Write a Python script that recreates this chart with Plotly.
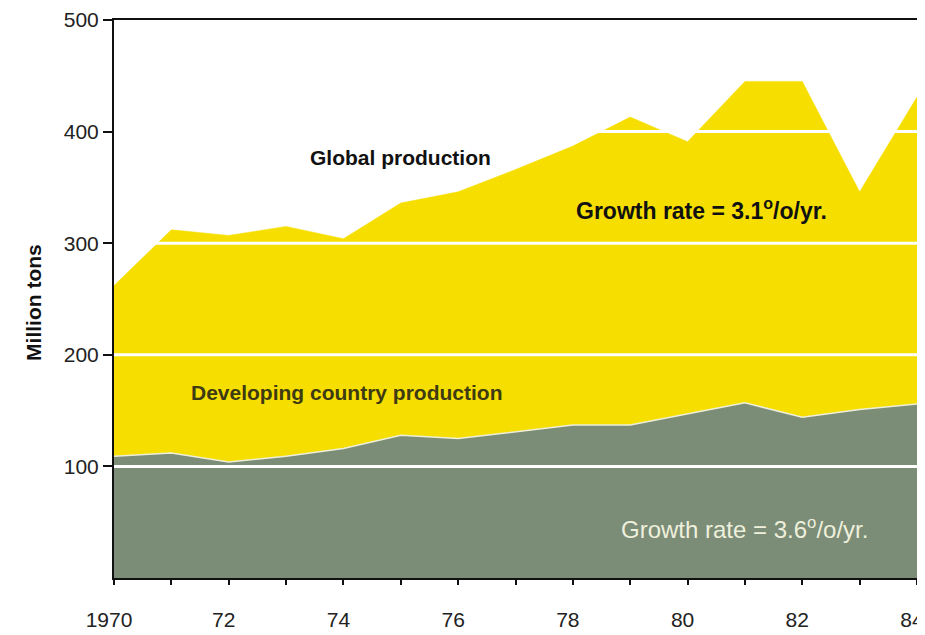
import plotly.graph_objects as go

years = list(range(1970, 1985))
global_production = [262, 312, 307, 315, 304, 336, 346, 366, 387, 413, 391, 445, 445, 346, 431]
developing_production = [109, 112, 104, 109, 116, 128, 125, 131, 137, 137, 147, 157, 144, 151, 156]
y_ticks = [100, 200, 300, 400, 500]
x_tick_vals = years
x_tick_text = ["1970" if y == 1970 else (str(y)[2:] if y % 2 == 0 else "") for y in years]

YELLOW = "#F6DF00"
GRAY = "#7B8C77"
FONT = "Liberation Sans"

fig = go.Figure()
fig.add_trace(go.Scatter(
    x=years, y=global_production, mode="lines", fill="tozeroy",
    fillcolor=YELLOW, line=dict(color=YELLOW, width=0.5), hoverinfo="skip",
    name="Global production"))
fig.add_trace(go.Scatter(
    x=years, y=developing_production, mode="lines", fill="tozeroy",
    fillcolor=GRAY, line=dict(color="#EDEFD8", width=1.5), hoverinfo="skip",
    name="Developing country production"))

# white gridlines drawn on top of the areas
for v in y_ticks[:-1]:
    fig.add_shape(type="line", xref="paper", x0=0, x1=1, yref="y", y0=v, y1=v,
                  line=dict(color="white", width=3), layer="above")

fig.add_annotation(x=1975.0, y=377, text="<b>Global production</b>", showarrow=False,
                   font=dict(family=FONT, size=21, color="#111111"))
fig.add_annotation(x=1980.25, y=331, text="<b>Growth rate = 3.1<sup>o</sup>/o/yr.</b>", showarrow=False,
                   font=dict(family=FONT, size=23, color="#111111"))
fig.add_annotation(x=1974.07, y=166, text="<b>Developing country production</b>", showarrow=False,
                   font=dict(family=FONT, size=21, color="#3E3A12"))
fig.add_annotation(x=1981.0, y=45, text="Growth rate = 3.6<sup>o</sup>/o/yr.", showarrow=False,
                   font=dict(family=FONT, size=24, color="#EEF0DC"))
fig.add_annotation(xref="paper", yref="paper", x=-0.117, y=0.494, text="<b>Million tons</b>",
                   textangle=-90, showarrow=False,
                   font=dict(family=FONT, size=21, color="#111111"))

fig.update_layout(
    width=917, height=627,
    margin=dict(l=106, r=8, t=12, b=57, autoexpand=False),
    paper_bgcolor="white", plot_bgcolor="white",
    showlegend=False,
    font=dict(family=FONT, size=21, color="#222222"),
)
fig.update_xaxes(
    range=[1970, 1984], tickmode="array", tickvals=x_tick_vals, ticktext=x_tick_text,
    ticks="outside", ticklen=5, tickwidth=2, tickcolor="#111111",
    showline=True, linecolor="#111111", linewidth=2, mirror=True,
    showgrid=False, zeroline=False, ticklabelstandoff=17, ticklabelshift=-5,
    automargin=False, ticklabeloverflow="allow",
)
fig.update_yaxes(
    range=[0, 500], tickmode="array", tickvals=y_ticks,
    ticks="outside", ticklen=9, tickwidth=2, tickcolor="#111111",
    showline=True, linecolor="#111111", linewidth=2, mirror=True,
    showgrid=False, zeroline=False,
    automargin=False, ticklabeloverflow="allow",
)

fig.write_html("out.html")
